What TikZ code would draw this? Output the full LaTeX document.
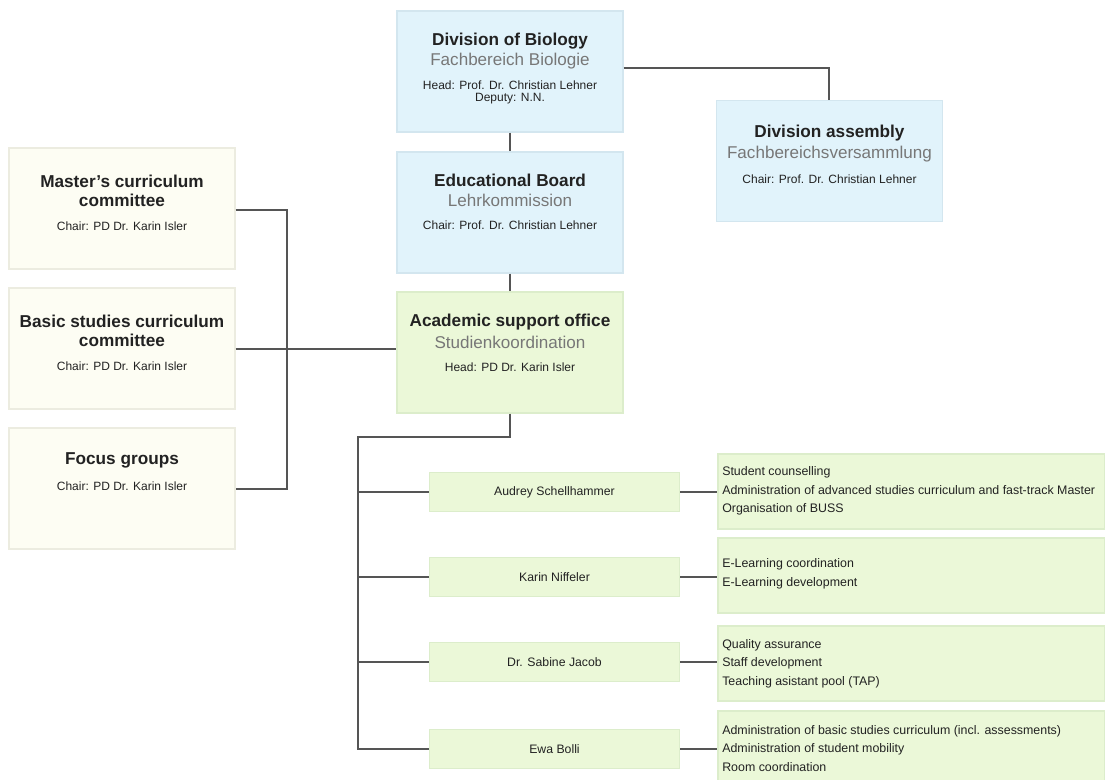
\documentclass[tikz,border=0pt]{standalone}
\usepackage{fontspec}
\setmainfont{Liberation Sans}
\definecolor{bluefill}{HTML}{E1F3FB}
\definecolor{blueline}{HTML}{D3E6EF}
\definecolor{yelfill}{HTML}{FDFDF3}
\definecolor{yelline}{HTML}{ECECE0}
\definecolor{grnfill}{HTML}{EBF8D8}
\definecolor{grnline}{HTML}{DCEDCB}
\definecolor{subgray}{HTML}{777777}
\definecolor{txt}{HTML}{222222}
\definecolor{conn}{HTML}{555555}
\tikzset{
  bigbox/.style={inner sep=0pt, minimum width=169.5pt, minimum height=90.75pt, line width=0.8pt},
  bluebox/.style={bigbox, fill=bluefill, draw=blueline},
  yelbox/.style={bigbox, fill=yelfill, draw=yelline},
  grnbox/.style={bigbox, fill=grnfill, draw=grnline},
  staffbox/.style={inner sep=0pt, minimum width=187.5pt, minimum height=29.25pt, fill=grnfill, draw=grnline, line width=0.8pt, font=\fontsize{9.2pt}{10pt}\selectfont, text=txt},
  detailbox/.style={inner sep=0pt, minimum width=290.25pt, minimum height=56.25pt, fill=grnfill, draw=grnline, line width=0.8pt},
  ttl/.style={font=\fontsize{12.9pt}{14.6pt}\selectfont\bfseries, text=txt, align=center, inner sep=0pt},
  sub/.style={font=\fontsize{12.8pt}{14.6pt}\selectfont, text=subgray, inner sep=0pt},
  small/.style={font=\fontsize{9pt}{9pt}\selectfont, text=txt, align=center, inner sep=0pt},
  dtext/.style={font=\fontsize{9.3pt}{14pt}\selectfont, text=txt, align=left, inner sep=0pt, anchor=west},
  link/.style={draw=conn, line width=0.9pt},
}
\begin{document}
\begin{tikzpicture}[x=0.75pt, y=-0.75pt]
\useasboundingbox (0,0) rectangle (1105,780);

% main boxes
\node[bluebox] (div) at (510,71.5) {};
\node[bluebox] (edu) at (510,212.5) {};
\node[grnbox]  (aso) at (510,352.5) {};
\node[bluebox] (asm) at (829.5,161) {};
\node[yelbox]  (mas) at (122,208.5) {};
\node[yelbox]  (bas) at (122,348.5) {};
\node[yelbox]  (foc) at (122,488.5) {};

% texts of main boxes
\node[ttl] (divT) at (510,41) {Division of Biology};
\node[sub] (divS) at (510,61) {Fachbereich Biologie};
\node[small] (divH) at (510,92.5) {Head: Prof. Dr. Christian Lehner\\Deputy: N.N.};

\node[ttl] (eduT) at (510,180.5) {Educational Board};
\node[sub] (eduS) at (510,200) {Lehrkommission};
\node[small] (eduH) at (510,225) {Chair: Prof. Dr. Christian Lehner};

\node[ttl] (asoT) at (510,322.5) {Academic support office};
\node[sub] (asoS) at (510,342) {Studienkoordination};
\node[small] (asoH) at (510,367) {Head: PD Dr. Karin Isler};

\node[ttl] (asmT) at (829.5,133) {Division assembly};
\node[sub] (asmS) at (829.5,154) {Fachbereichsversammlung};
\node[small] (asmH) at (829.5,179) {Chair: Prof. Dr. Christian Lehner};

\node[ttl] (masT) at (122,191) {Master's curriculum\\committee};
\node[small] (masH) at (122,226.5) {Chair: PD Dr. Karin Isler};

\node[ttl] (basT) at (122,331) {Basic studies curriculum\\committee};
\node[small] (basH) at (122,366.5) {Chair: PD Dr. Karin Isler};

\node[ttl] (focT) at (122,460) {Focus groups};
\node[small] (focH) at (122,486) {Chair: PD Dr. Karin Isler};

% staff boxes
\node[staffbox] (s1) at (554.5,492) {Audrey Schellhammer};
\node[staffbox] (s2) at (554.5,577) {Karin Niffeler};
\node[staffbox] (s3) at (554.5,662) {Dr. Sabine Jacob};
\node[staffbox] (s4) at (554.5,749) {Ewa Bolli};

% detail boxes
\node[detailbox] (d1) at (911.5,491.5) {};
\node[detailbox] (d2) at (911.5,575.5) {};
\node[detailbox] (d3) at (911.5,663.5) {};
\node[detailbox] (d4) at (911.5,748.5) {};

\node[dtext] (d1t) at (722,491) {Student counselling\\Administration of advanced studies curriculum and fast-track Master\\Organisation of BUSS};
\node[dtext] (d2t) at (722,574) {E-Learning coordination\\E-Learning development};
\node[dtext] (d3t) at (722,663.5) {Quality assurance\\Staff development\\Teaching asistant pool (TAP)};
\node[dtext] (d4t) at (722,748.5) {Administration of basic studies curriculum (incl. assessments)\\Administration of student mobility\\Room coordination};

% connectors
\coordinate (bend1) at (829,68);
\draw[link] (div.east |- bend1) -- (bend1) -- (asm.north -| bend1);
\draw[link] (div.south) -- (edu.north);
\draw[link] (edu.south) -- (aso.north);

\coordinate (lbus) at (287,349);
\draw[link] (mas.east |- 0,210) -- (287,210) -- (287,489) -- (foc.east |- 0,489);
\draw[link] (bas.east |- lbus) -- (aso.west |- lbus);

\coordinate (rbus) at (358,437);
\draw[link] (aso.south) -- (aso.south |- rbus) -- (rbus) -- (358,749) -- (s4.west |- 0,749);
\draw[link] (358,492) -- (s1.west);
\draw[link] (358,577) -- (s2.west);
\draw[link] (358,662) -- (s3.west);

\draw[link] (s1.east) -- (d1.west |- s1.east);
\draw[link] (s2.east) -- (d2.west |- s2.east);
\draw[link] (s3.east) -- (d3.west |- s3.east);
\draw[link] (s4.east) -- (d4.west |- s4.east);
\end{tikzpicture}
\end{document}
